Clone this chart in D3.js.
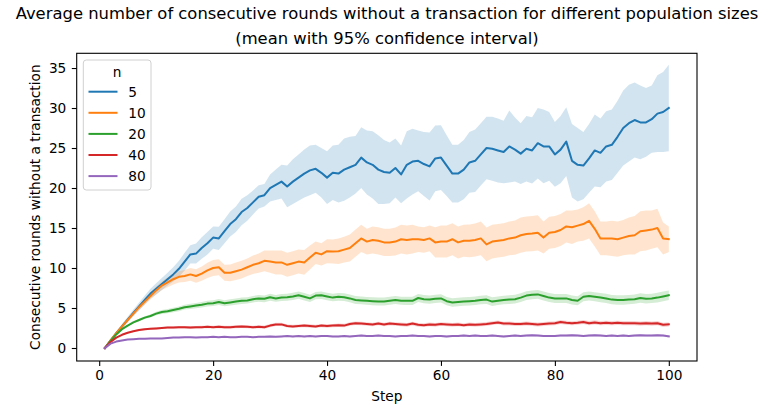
<!DOCTYPE html>
<html>
<head>
<meta charset="utf-8">
<script src="https://cdn.jsdelivr.net/npm/d3@7"></script>
<style>
  body { margin: 0; background: white; }
  svg text { font-family: "DejaVu Sans", sans-serif; fill: #000; }
</style>
</head>
<body>
<div class="chartDiv"></div>
<script>
// population sizes (legend) and colours
var sizes = ["5", "10", "20", "40", "80"];
var colors = ["#1f77b4", "#ff7f0e", "#2ca02c", "#d62728", "#9467bd"];

// step index 1..100
var steps = d3.range(1, 101);
var xTicks = [0, 20, 40, 60, 80, 100];
var yTicks = [0, 5, 10, 15, 20, 25, 30, 35];

// mean values per step
var mean5 = [0,0.95,1.85,2.7,3.55,4.4,5.2,6.0,6.8,7.4,8.0,8.6,9.2,9.9,10.8,11.7,11.8,12.5,13.1,13.8,
  13.7,14.6,15.5,16.1,17.0,17.5,18.2,18.9,19.1,20.0,20.4,20.8,20.2,20.8,21.3,21.8,22.2,22.4,21.9,21.3,
  21.9,21.8,22.3,22.6,22.9,23.8,23.2,22.9,22.3,22.0,21.9,22.5,21.7,22.9,23.3,23.4,23.0,22.7,23.7,23.8,
  22.8,21.8,21.8,22.3,23.2,23.4,24.2,25.0,24.9,24.7,24.5,25.2,24.8,24.3,24.9,24.7,25.6,25.2,25.2,24.2,
  24.8,25.8,23.4,22.9,22.8,23.7,24.7,24.4,25.2,25.4,26.4,27.5,28.1,28.5,28.2,28.2,28.6,29.3,29.5,30.0];
var mean10 = [0,0.95,1.85,2.7,3.5,4.3,5.1,5.8,6.5,7.2,7.8,8.2,8.6,8.9,9.0,9.2,9.0,9.3,9.7,10.0,
  10.1,9.4,9.4,9.6,9.8,10.1,10.4,10.6,10.9,10.8,10.7,10.7,10.4,10.6,10.8,10.7,11.3,11.9,11.7,12.1,
  12.05,12.1,12.3,12.5,13.1,13.7,13.3,13.5,13.4,13.2,13.2,13.3,13.6,13.5,13.6,13.6,13.5,13.7,13.2,13.3,
  13.3,13.6,13.2,13.4,13.4,13.5,13.7,12.95,13.3,13.4,13.5,13.7,13.8,14.1,14.25,14.3,14.4,13.8,14.4,14.5,
  14.75,15.2,15.1,15.3,15.5,15.9,14.9,13.7,13.7,13.7,13.6,13.8,14.0,14.1,14.6,14.7,14.8,15.0,13.7,13.6];
var mean20 = [0,0.9,1.7,2.35,2.8,3.2,3.5,3.8,4.0,4.3,4.5,4.6,4.75,4.9,5.1,5.2,5.3,5.4,5.55,5.6,
  5.75,5.6,5.7,5.8,5.9,5.95,6.1,6.2,6.15,6.35,6.2,6.3,6.35,6.45,6.6,6.4,6.2,6.55,6.6,6.45,
  6.3,6.4,6.35,6.2,6.0,5.95,5.9,5.85,5.8,5.8,5.9,6.0,5.9,5.9,5.9,6.25,6.1,6.05,6.15,6.2,
  5.85,5.7,5.75,5.8,5.85,5.9,6.0,6.05,5.8,5.9,6.0,6.05,6.1,6.3,6.55,6.65,6.7,6.5,6.3,6.2,
  6.2,6.2,6.0,5.9,6.4,6.5,6.4,6.3,6.2,6.05,6.0,6.0,6.05,6.1,6.25,6.15,6.2,6.3,6.45,6.6];
var mean40 = [0,0.75,1.3,1.65,1.9,2.1,2.25,2.35,2.4,2.45,2.5,2.55,2.55,2.6,2.6,2.55,2.6,2.6,2.65,2.6,
  2.65,2.6,2.6,2.65,2.7,2.65,2.6,2.65,2.6,2.8,2.95,2.95,2.75,2.7,2.75,2.8,2.75,2.7,2.8,2.75,
  2.8,2.85,2.8,3.0,3.1,3.05,3.0,2.95,3.05,2.95,3.05,3.0,2.95,2.9,3.05,2.9,2.85,2.95,2.9,3.0,
  2.95,2.9,2.95,2.85,2.95,2.9,2.95,3.0,3.1,3.2,3.05,3.05,3.0,3.0,3.05,3.0,2.95,3.0,3.05,3.1,
  3.25,3.15,3.1,3.15,3.25,3.1,3.2,3.1,3.15,3.1,3.15,3.1,3.1,3.1,3.05,3.1,3.05,3.1,2.9,2.95];
var mean80 = [0,0.55,0.8,0.95,1.05,1.1,1.15,1.15,1.2,1.2,1.2,1.25,1.3,1.3,1.35,1.35,1.3,1.35,1.35,1.4,
  1.35,1.4,1.35,1.35,1.4,1.4,1.35,1.4,1.4,1.45,1.4,1.45,1.5,1.45,1.5,1.45,1.5,1.45,1.5,1.5,
  1.45,1.45,1.5,1.45,1.5,1.55,1.5,1.5,1.55,1.5,1.5,1.45,1.5,1.5,1.55,1.5,1.5,1.45,1.5,1.5,
  1.45,1.5,1.5,1.55,1.5,1.55,1.5,1.5,1.55,1.5,1.45,1.5,1.55,1.5,1.55,1.6,1.55,1.5,1.5,1.5,
  1.55,1.55,1.6,1.55,1.5,1.55,1.6,1.55,1.5,1.55,1.5,1.55,1.5,1.55,1.6,1.55,1.55,1.6,1.55,1.45];

// half width of the 95% confidence band per step
var ci5 = [0,0.1,0.2,0.3,0.35,0.4,0.5,0.55,0.6,0.7,0.75,0.8,0.9,1.0,1.1,1.15,1.25,1.35,1.4,1.4,
  1.45,1.5,1.55,1.6,1.65,1.6,1.5,1.45,1.4,1.7,1.9,2.1,2.6,2.8,2.9,3.0,3.1,3.0,3.1,3.3,
  3.4,3.6,3.9,3.8,3.6,3.8,4.0,4.2,4.3,4.0,3.8,3.7,3.6,4.2,4.1,3.8,4.0,4.25,4.1,4.05,
  3.8,3.6,3.6,3.7,3.8,3.9,3.9,3.9,4.0,4.0,3.9,4.5,4.0,3.8,4.1,4.15,4.4,4.6,4.3,4.05,
  4.2,4.3,4.6,4.6,4.2,4.3,4.5,4.3,4.4,4.4,4.5,4.7,4.8,4.7,4.6,4.3,4.2,4.8,5.0,5.4];
var ci10 = [0,0.1,0.15,0.2,0.25,0.3,0.35,0.4,0.45,0.5,0.55,0.6,0.65,0.7,0.75,0.8,0.85,0.9,0.95,1.0,
  1.0,1.0,1.05,1.1,1.1,1.1,1.15,1.2,1.3,1.4,1.5,1.5,1.5,1.5,1.5,1.55,1.5,1.4,1.4,1.5,
  1.5,1.6,1.6,1.7,1.7,1.7,1.6,1.7,1.7,1.7,1.7,1.75,1.8,1.8,1.8,1.6,1.6,1.6,1.9,2.0,
  2.0,2.0,2.0,2.0,2.05,2.05,2.1,2.1,2.1,2.1,2.1,2.1,2.15,2.2,2.2,2.2,2.2,2.0,2.0,2.0,
  2.0,2.0,2.1,2.0,2.1,2.2,2.2,2.1,2.1,2.2,2.2,2.2,2.3,2.4,2.5,2.5,2.4,2.4,2.0,1.6];
var ci20 = [0,0.05,0.08,0.1,0.12,0.14,0.16,0.18,0.2,0.22,0.24,0.26,0.28,0.3,0.3,0.32,0.33,0.34,0.35,0.36,
  0.37,0.38,0.38,0.39,0.4,0.4,0.41,0.42,0.42,0.43,0.43,0.44,0.44,0.45,0.45,0.46,0.46,0.46,0.47,0.47,
  0.47,0.48,0.48,0.48,0.49,0.49,0.49,0.5,0.5,0.5,0.5,0.5,0.5,0.51,0.51,0.51,0.52,0.52,0.52,0.52,
  0.52,0.53,0.53,0.53,0.53,0.53,0.54,0.54,0.54,0.54,0.54,0.55,0.55,0.55,0.55,0.55,0.55,0.56,0.56,0.56,
  0.56,0.56,0.56,0.57,0.57,0.57,0.57,0.57,0.58,0.58,0.58,0.58,0.58,0.58,0.59,0.59,0.59,0.6,0.6,0.6];
var ci40 = [0,0.04,0.06,0.08,0.09,0.1,0.11,0.12,0.13,0.13,0.14,0.14,0.15,0.15,0.16,0.16,0.16,0.17,0.17,0.17,
  0.18,0.18,0.18,0.18,0.19,0.19,0.19,0.19,0.2,0.2,0.2,0.2,0.2,0.2,0.2,0.21,0.21,0.21,0.21,0.21,
  0.21,0.21,0.22,0.22,0.22,0.22,0.22,0.22,0.22,0.22,0.23,0.23,0.23,0.23,0.23,0.23,0.23,0.23,0.23,0.23,
  0.24,0.24,0.24,0.24,0.24,0.24,0.24,0.24,0.24,0.24,0.24,0.25,0.25,0.25,0.25,0.25,0.25,0.25,0.25,0.25,
  0.25,0.25,0.25,0.25,0.25,0.26,0.26,0.26,0.26,0.26,0.26,0.26,0.26,0.26,0.26,0.26,0.26,0.26,0.26,0.26];
var ci80 = [0,0.03,0.04,0.05,0.06,0.06,0.07,0.07,0.07,0.08,0.08,0.08,0.08,0.09,0.09,0.09,0.09,0.09,0.1,0.1,
  0.1,0.1,0.1,0.1,0.1,0.1,0.1,0.11,0.11,0.11,0.11,0.11,0.11,0.11,0.11,0.11,0.11,0.11,0.12,0.12,
  0.12,0.12,0.12,0.12,0.12,0.12,0.12,0.12,0.12,0.12,0.12,0.12,0.12,0.12,0.12,0.13,0.13,0.13,0.13,0.13,
  0.13,0.13,0.13,0.13,0.13,0.13,0.13,0.13,0.13,0.13,0.13,0.13,0.13,0.13,0.13,0.13,0.13,0.13,0.14,0.14,
  0.14,0.14,0.14,0.14,0.14,0.14,0.14,0.14,0.14,0.14,0.14,0.14,0.14,0.14,0.14,0.14,0.14,0.14,0.14,0.14];

var means = [mean5, mean10, mean20, mean40, mean80];
var cis = [ci5, ci10, ci20, ci40, ci80];

var width = 772, height = 414;
var plot = { left: 76.7, right: 697, top: 53.3, bottom: 361 };
var fontSize = "13.7px";

var svg = d3.select(".chartDiv").append("svg")
    .attr("width", width)
    .attr("height", height);

var x = d3.scaleLinear().domain([-3.95, 104.95]).range([plot.left, plot.right]);
var y = d3.scaleLinear().domain([-1.625, 36.84]).range([plot.bottom, plot.top]);

var area = d3.area()
    .x(function(d) { return x(d.step); })
    .y0(function(d) { return y(d.v - d.ci); })
    .y1(function(d) { return y(d.v + d.ci); });

var line = d3.line()
    .x(function(d) { return x(d.step); })
    .y(function(d) { return y(d.v); });

var series = sizes.map(function(s, i) {
    return steps.map(function(st, j) {
        return { step: st, v: means[i][j], ci: cis[i][j] };
    });
});

var marks = svg.append("g");

// bands first, then lines on top
series.forEach(function(data, i) {
    marks.append("path")
        .datum(data)
        .attr("d", area)
        .attr("fill", colors[i])
        .attr("fill-opacity", 0.2)
        .attr("stroke", "none");
});

series.forEach(function(data, i) {
    marks.append("path")
        .datum(data)
        .attr("d", line)
        .attr("fill", "none")
        .attr("stroke", colors[i])
        .attr("stroke-width", 2)
        .attr("stroke-linejoin", "round")
        .attr("stroke-linecap", "square");
});

// axes
var xAxis = svg.append("g")
    .attr("transform", "translate(0," + plot.bottom + ")")
    .call(d3.axisBottom(x).tickValues(xTicks).tickSize(4.9).tickPadding(4.8));
var yAxis = svg.append("g")
    .attr("transform", "translate(" + plot.left + ",0)")
    .call(d3.axisLeft(y).tickValues(yTicks).tickSize(4.9).tickPadding(5.5));

[xAxis, yAxis].forEach(function(ax) {
    ax.select(".domain").remove();
    ax.selectAll("line").attr("stroke", "#000").attr("stroke-width", 1.1);
    ax.selectAll("text")
        .style("font-family", "DejaVu Sans")
        .style("font-size", fontSize)
        .attr("fill", "#000");
});

// frame
svg.append("rect")
    .attr("x", plot.left)
    .attr("y", plot.top)
    .attr("width", plot.right - plot.left)
    .attr("height", plot.bottom - plot.top)
    .attr("fill", "none")
    .attr("stroke", "#000")
    .attr("stroke-width", 1.1);

// axis labels
svg.append("text")
    .attr("x", (plot.left + plot.right) / 2)
    .attr("y", 401)
    .attr("text-anchor", "middle")
    .style("font-size", fontSize)
    .text("Step");

svg.append("text")
    .attr("transform", "translate(40," + ((plot.top + plot.bottom) / 2) + ") rotate(-90)")
    .attr("text-anchor", "middle")
    .style("font-size", fontSize)
    .text("Consecutive rounds without a transaction");

// title
var title = svg.append("text")
    .attr("text-anchor", "middle")
    .style("font-size", "16.4px");
title.append("tspan")
    .attr("x", 387)
    .attr("y", 19)
    .text("Average number of consecutive rounds without a transaction for different population sizes");
title.append("tspan")
    .attr("x", 387)
    .attr("y", 44)
    .text("(mean with 95% confidence interval)");

// legend
var legend = svg.append("g");
legend.append("rect")
    .attr("x", 83.3)
    .attr("y", 60)
    .attr("width", 67.7)
    .attr("height", 130)
    .attr("rx", 3)
    .attr("fill", "white")
    .attr("fill-opacity", 0.8)
    .attr("stroke", "#d0d0d0")
    .attr("stroke-width", 1);

legend.append("text")
    .attr("x", 117)
    .attr("y", 77)
    .attr("text-anchor", "middle")
    .style("font-size", fontSize)
    .text("n");

sizes.forEach(function(s, i) {
    var cy = 91.7 + i * 21.1;
    legend.append("line")
        .attr("x1", 88.5)
        .attr("x2", 117.5)
        .attr("y1", cy)
        .attr("y2", cy)
        .attr("stroke", colors[i])
        .attr("stroke-width", 2);
    legend.append("text")
        .attr("x", 128.3)
        .attr("y", cy + 5)
        .style("font-size", fontSize)
        .text(s);
});
</script>
</body>
</html>
